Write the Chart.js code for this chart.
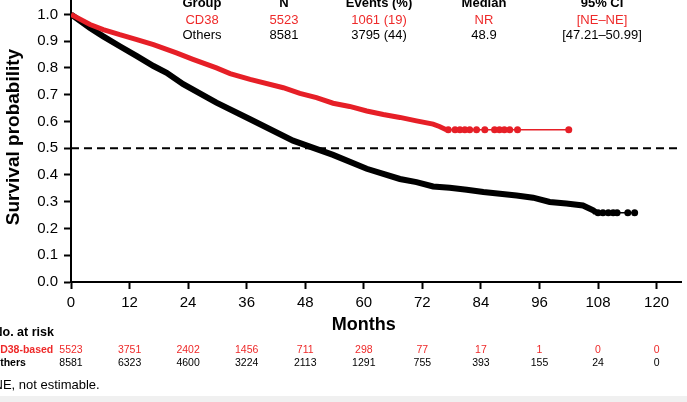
<!DOCTYPE html>
<html>
<head>
<meta charset="utf-8">
<script src="https://cdn.jsdelivr.net/npm/chart.js@4"></script>
<style>
  html, body { margin: 0; padding: 0; background: #fff; }
  #wrap { position: relative; width: 687px; height: 402px; overflow: hidden; }
  #km { display: block; position: absolute; left: 0; top: -3px; }
</style>
</head>
<body>
<div id="wrap"><canvas id="km" width="687" height="405"></canvas></div>
<script>
const FONT = '"Liberation Sans", Arial, sans-serif'
const RED = "#e61f27"
const RED_TEXT = "#ee2a2a"
const SHIFT = 3 // canvas sits 3px above the page top

// axis ticks
const xTicks = [0, 12, 24, 36, 48, 60, 72, 84, 96, 108, 120]
const yTicks = [0, 0.1, 0.2, 0.3, 0.4, 0.5, 0.6, 0.7, 0.8, 0.9, 1.0]

// CD38-based curve
const cd38Months = [0, 3.9, 6.6, 10.0, 13.5, 16.9, 21.6, 25.0, 29.8, 32.6, 36.7, 43.5, 46.9, 50.3, 53.7, 57.1, 60.6, 64.0, 67.4, 70.8, 74.2, 75.5, 76.9]
const cd38Surv = [1.0, 0.962, 0.943, 0.924, 0.906, 0.887, 0.856, 0.832, 0.8, 0.779, 0.757, 0.726, 0.705, 0.689, 0.668, 0.656, 0.639, 0.626, 0.615, 0.602, 0.59, 0.581, 0.569]
const cd38CensorMonths = [77.3, 78.7, 79.7, 80.7, 81.7, 83.1, 84.8, 86.8, 87.8, 88.8, 89.9, 91.5, 102.0]

// Others curve
const othersMonths = [0, 3.9, 6.6, 10.0, 13.5, 16.9, 19.6, 23.0, 29.8, 36.7, 45.5, 53.7, 60.6, 64.0, 67.4, 70.8, 74.2, 77.6, 81.1, 84.5, 87.9, 91.3, 94.7, 98.1, 101.5, 104.9, 107.0, 107.6]
const othersSurv = [1.0, 0.949, 0.918, 0.881, 0.844, 0.807, 0.782, 0.739, 0.67, 0.608, 0.528, 0.475, 0.423, 0.404, 0.385, 0.373, 0.357, 0.352, 0.345, 0.336, 0.33, 0.323, 0.315, 0.299, 0.293, 0.286, 0.268, 0.259]
const othersCensorMonths = [108.0, 109.0, 110.1, 111.1, 111.9, 114.1, 115.5]

const medianLevel = 0.5

// numbers at risk
const riskMonths = [0, 12, 24, 36, 48, 60, 72, 84, 96, 108, 120]
const cd38AtRisk = [5523, 3751, 2402, 1456, 711, 298, 77, 17, 1, 0, 0]
const othersAtRisk = [8581, 6323, 4600, 3224, 2113, 1291, 755, 393, 155, 24, 0]

// summary table
const tableHeaders = ["Group", "N", "Events (%)", "Median", "95% CI"]
const cd38Row = ["CD38", "5523", "1061 (19)", "NR", "[NE\u2013NE]"]
const othersRow = ["Others", "8581", "3795 (44)", "48.9", "[47.21\u201350.99]"]

function toPoints(xs, ys) {
  return xs.map((m, i) => ({ x: m, y: ys[i] }))
}

// value of the curve at time t (last reading at or before t)
function survAt(xs, ys, t) {
  let v = ys[0]
  xs.forEach((m, i) => {
    if (m <= t) v = ys[i]
  })
  return v
}

function tail(xs, ys, censor) {
  const last = ys[ys.length - 1]
  return [
    { x: xs[xs.length - 1], y: last },
    { x: Math.max(...censor), y: last },
  ]
}

function censorPoints(xs, ys, censor) {
  return censor.map((t) => ({ x: t, y: survAt(xs, ys, t) }))
}

const textPlugin = {
  id: "kmText",
  afterDraw(chart) {
    const { ctx } = chart
    const x = chart.scales.x
    ctx.save()
    ctx.translate(0, SHIFT)

    // summary table at the top
    const colX = [202, 284, 379, 484, 602]
    ctx.textAlign = "center"
    ctx.textBaseline = "middle"
    ctx.fillStyle = "#000"
    ctx.font = "bold 13px " + FONT
    tableHeaders.forEach((t, i) => ctx.fillText(t, colX[i], 3.5))
    ctx.font = "13px " + FONT
    ctx.fillStyle = RED_TEXT
    cd38Row.forEach((t, i) => ctx.fillText(t, colX[i], 20))
    ctx.fillStyle = "#000"
    othersRow.forEach((t, i) => ctx.fillText(t, colX[i], 35))

    // axis titles
    ctx.font = "bold 18px " + FONT
    ctx.fillText("Months", x.getPixelForValue(60), 325)
    ctx.save()
    ctx.translate(14, 137)
    ctx.rotate(-Math.PI / 2)
    ctx.font = "bold 19px " + FONT
    ctx.fillText("Survival probability", 0, 0)
    ctx.restore()

    // numbers at risk
    ctx.textAlign = "left"
    ctx.font = "bold 12.5px " + FONT
    ctx.fillText("No. at risk", -6.5, 332.5)
    ctx.font = "bold 10.5px " + FONT
    ctx.fillStyle = RED_TEXT
    ctx.fillText("CD38-based", -7.4, 350)
    ctx.fillStyle = "#000"
    ctx.fillText("Others", -8, 363)

    ctx.textAlign = "center"
    ctx.font = "10.5px " + FONT
    riskMonths.forEach((m, i) => {
      const px = x.getPixelForValue(m)
      ctx.fillStyle = RED_TEXT
      ctx.fillText(String(cd38AtRisk[i]), px, 350)
      ctx.fillStyle = "#000"
      ctx.fillText(String(othersAtRisk[i]), px, 363)
    })

    // footnote
    ctx.textAlign = "left"
    ctx.font = "13px " + FONT
    ctx.fillText("NE, not estimable.", -6.5, 385)

    ctx.fillStyle = "#f0f0f0"
    ctx.fillRect(0, 396, 687, 6)
    ctx.restore()
  },
}

const canvas = document.getElementById("km")

new Chart(canvas, {
  type: "line",
  data: {
    datasets: [
      {
        data: censorPoints(cd38Months, cd38Surv, cd38CensorMonths),
        showLine: false,
        pointRadius: 3.5,
        pointBackgroundColor: RED,
        pointBorderWidth: 0,
      },
      {
        data: tail(cd38Months, cd38Surv, cd38CensorMonths),
        borderColor: RED,
        borderWidth: 1.5,
        pointRadius: 0,
      },
      {
        data: toPoints(cd38Months, cd38Surv),
        borderColor: RED,
        borderWidth: 5,
        pointRadius: 0,
      },
      {
        data: censorPoints(othersMonths, othersSurv, othersCensorMonths),
        showLine: false,
        pointRadius: 3.5,
        pointBackgroundColor: "#000",
        pointBorderWidth: 0,
      },
      {
        data: tail(othersMonths, othersSurv, othersCensorMonths),
        borderColor: "#000",
        borderWidth: 1.5,
        pointRadius: 0,
      },
      {
        data: toPoints(othersMonths, othersSurv),
        borderColor: "#000",
        borderWidth: 6,
        pointRadius: 0,
      },
      {
        // median line
        data: [
          { x: 0, y: medianLevel },
          { x: 125, y: medianLevel },
        ],
        borderColor: "#000",
        borderWidth: 2,
        borderDash: [8, 5],
        pointRadius: 0,
      },
    ],
  },
  options: {
    responsive: false,
    animation: false,
    events: [],
    layout: { padding: { top: 0, right: 6, bottom: 90, left: 0 } },
    plugins: {
      legend: { display: false },
      tooltip: { enabled: false },
    },
    scales: {
      x: {
        type: "linear",
        min: 0,
        max: 125,
        afterBuildTicks: (s) => {
          s.ticks = xTicks.map((v) => ({ value: v }))
        },
        afterFit: (s) => {
          s.height = 30
          s.paddingLeft = 0
          s.paddingRight = 0
        },
        ticks: {
          color: "#000",
          font: { family: FONT, size: 15 },
          padding: 5,
          maxRotation: 0,
          autoSkip: false,
        },
        grid: {
          drawOnChartArea: false,
          drawTicks: true,
          tickLength: 7,
          tickWidth: 2,
          tickColor: "#000",
        },
        border: { color: "#000", width: 2 },
      },
      y: {
        min: 0,
        max: 1.05,
        afterBuildTicks: (s) => {
          s.ticks = yTicks.map((v) => ({ value: v }))
        },
        afterFit: (s) => {
          s.width = 71
          s.paddingTop = 0
          s.paddingBottom = 0
        },
        ticks: {
          color: "#000",
          font: { family: FONT, size: 15 },
          padding: 6,
          callback: (v) => v.toFixed(1),
        },
        grid: {
          drawOnChartArea: false,
          drawTicks: true,
          tickLength: 7,
          tickWidth: 2,
          tickColor: "#000",
        },
        border: { color: "#000", width: 2 },
      },
    },
  },
  plugins: [textPlugin],
})
</script>
</body>
</html>
